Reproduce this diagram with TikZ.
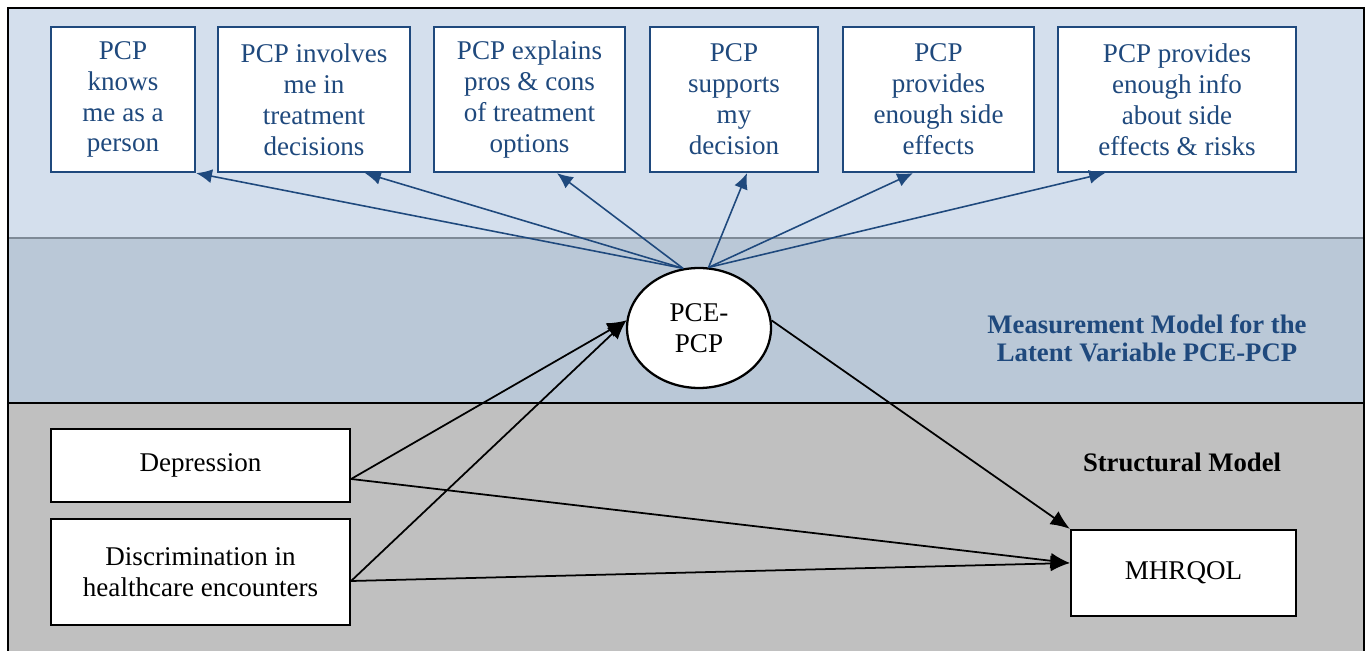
\documentclass[tikz,border=0pt]{standalone}
\usepackage{fontspec}
\setmainfont{Liberation Serif}
\usetikzlibrary{arrows.meta,shapes.geometric}

\definecolor{bandtop}{HTML}{D4DFED}
\definecolor{bandmid}{HTML}{BAC8D7}
\definecolor{bandlow}{HTML}{C0C0C0}
\definecolor{bandline}{HTML}{7E8A97}
\definecolor{pcblue}{HTML}{1F497D}

\newcommand{\itemfont}{\fontsize{15.4}{17.6}\selectfont}
\newcommand{\titlefont}{\fontsize{15.2}{16}\selectfont\bfseries}

\tikzset{
  item/.style={draw=pcblue, line width=1.3pt, fill=white, text=pcblue,
    align=center, minimum height=2.9cm, inner sep=2pt, font=\itemfont},
  var/.style={draw=black, line width=1.3pt, fill=white, align=center,
    inner sep=2pt, font=\itemfont},
  load/.style={draw=pcblue, line width=0.9pt, -{Latex[length=9pt,width=8pt]}},
  effect/.style={draw=black, line width=1pt, -{Latex[length=11pt,width=9pt]}}
}

\begin{document}
\begin{tikzpicture}[x=0.02cm, y=-0.02cm]
\useasboundingbox (0,0) rectangle (1368,651);
\clip (0,0) rectangle (1368,651);

% bands
\fill[white] (0,0) rectangle (1368,651);
\fill[bandtop] (8,8) rectangle (1364,238);
\fill[bandmid] (8,238) rectangle (1364,403);
\fill[bandlow] (8,403) rectangle (1364,660);
\draw[bandline, line width=1.2pt] (8,238) -- (1364,238);
\draw[line width=1pt] (8,403) -- (1364,403);
\draw[line width=1pt] (8,660) -- (8,8) -- (1364,8) -- (1364,660);

% indicators
\node[item, minimum width=2.88cm] (knows) at (123,99.5) {PCP\\knows\\me as a\\person};
\node[item, minimum width=3.84cm] (involves) at (314,99.5) {PCP involves\\me in\\treatment\\decisions};
\node[item, minimum width=3.82cm] (explains) at (529.5,99.5) {PCP explains\\pros \& cons\\of treatment\\options};
\node[item, minimum width=3.36cm] (supports) at (734,99.5) {PCP\\supports\\my\\decision};
\node[item, minimum width=3.82cm] (sidefx) at (938.5,99.5) {PCP\\provides\\enough side\\effects};
\node[item, minimum width=4.76cm] (risks) at (1177,99.5) {PCP provides\\enough info\\about side\\effects \& risks};

% latent variable
\node[var, ellipse, minimum width=2.88cm, minimum height=2.4cm] (pce) at (699,328) {PCE-\\PCP};

% observed variables
\node[var, minimum width=5.98cm, minimum height=1.46cm] (dep) at (200.5,465.5) {Depression};
\node[var, minimum width=5.98cm, minimum height=2.12cm] (disc) at (200.5,572) {Discrimination in\\healthcare encounters};
\node[var, minimum width=4.5cm, minimum height=1.72cm] (mh) at (1183.5,573) {MHRQOL};

% labels
\node[text=pcblue, font=\titlefont, align=center] (mmlabel) at (1147,338)
  {Measurement Model for the\\Latent Variable PCE-PCP};
\node[font=\titlefont] (smlabel) at (1182,462) {Structural Model};

% loadings
\draw[load] (pce.105) -- (knows.south east);
\draw[load] (pce.105) -- ([xshift=1.02cm]involves.south);
\draw[load] (pce.105) -- ([xshift=0.55cm]explains.south);
\draw[load] (pce.81) -- ([xshift=0.26cm]supports.south);
\draw[load] (pce.81) -- ([xshift=-0.51cm]sidefx.south);
\draw[load] (pce.81) -- ([xshift=-1.44cm]risks.south);

% structural paths
\draw[effect] ([yshift=-0.27cm]dep.east) -- (pce.174);
\draw[effect] ([yshift=-0.18cm]disc.east) -- (pce.174);
\draw[effect] ([yshift=-0.27cm]dep.east) -- ([yshift=0.2cm]mh.west);
\draw[effect] ([yshift=-0.18cm]disc.east) -- ([yshift=0.2cm]mh.west);
\draw[effect] (pce.6) -- (mh.north west);
\end{tikzpicture}
\end{document}
